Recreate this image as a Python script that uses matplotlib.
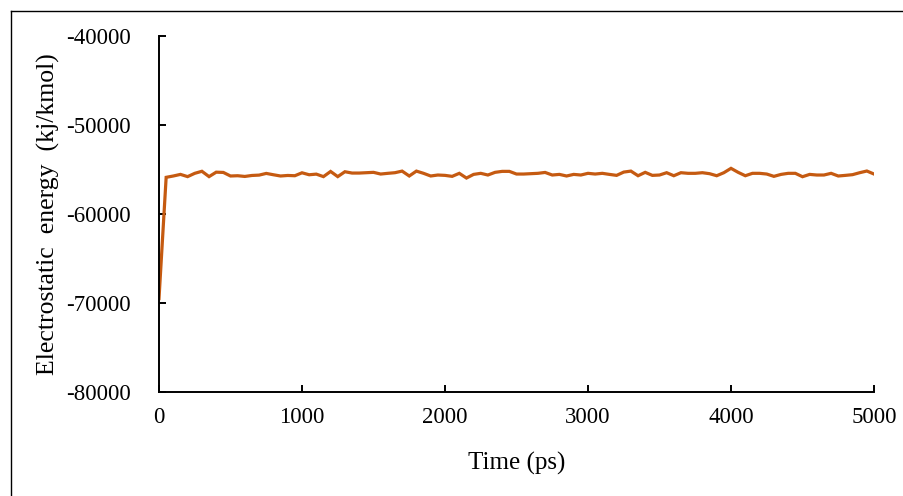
import matplotlib
matplotlib.use("Agg")
import matplotlib.pyplot as plt
from matplotlib.lines import Line2D
import numpy as np

time_ps = list(range(0, 5001, 50))
energy = [
    -69500, -55880, -55730, -55550, -55800, -55430, -55200, -55800, -55300, -55330,
    -55730, -55700, -55780, -55670, -55630, -55440, -55590, -55730, -55670, -55700,
    -55370, -55590, -55520, -55800, -55220, -55800, -55250, -55400, -55400, -55360,
    -55320, -55510, -55430, -55360, -55180, -55730, -55180, -55430, -55730, -55620,
    -55660, -55770, -55430, -55960, -55550, -55430, -55620, -55320, -55210, -55210,
    -55510, -55510, -55470, -55430, -55330, -55620, -55550, -55730, -55550, -55620,
    -55430, -55510, -55430, -55550, -55660, -55290, -55180, -55700, -55320, -55660,
    -55620, -55360, -55700, -55360, -55430, -55430, -55360, -55470, -55700, -55360,
    -54870, -55320, -55700, -55430, -55430, -55510, -55770, -55550, -55430, -55430,
    -55810, -55550, -55620, -55620, -55430, -55730, -55660, -55580, -55360, -55170,
    -55510,
]
xticks = [0, 1000, 2000, 3000, 4000, 5000]
yticks = [-80000, -70000, -60000, -50000, -40000]

plt.rcParams['font.family'] = ['Liberation Serif', 'DejaVu Serif']

fig = plt.figure(figsize=(9.04, 4.96), dpi=100)
ax = fig.add_axes([159/904, 1-392/496, (874-159)/904, (392-36)/496])

ax.plot(time_ps, energy, color='#C55A11', linewidth=2.3, solid_joinstyle='miter')

ax.set_xlim(0, 5000)
ax.set_ylim(-80000, -40000)
ax.set_xticks(xticks)
ax.set_yticks(yticks)
ax.set_xticklabels([str(v) for v in xticks])
ax.set_yticklabels([str(v) for v in yticks])
for s in ['top', 'right']:
    ax.spines[s].set_visible(False)
for s in ['left', 'bottom']:
    ax.spines[s].set_linewidth(1.4)
    ax.spines[s].set_color('black')
ax.tick_params(axis='both', direction='in', length=5, width=1.4, labelsize=16.5, colors='black')
ax.tick_params(axis='y', pad=20)
ax.tick_params(axis='x', pad=11)
ax.set_xlabel('Time (ps)', fontsize=18, labelpad=17)
ax.set_ylabel('Electrostatic  energy  (kj/kmol)', fontsize=18.5, labelpad=5)

fig.add_artist(Line2D([10.5/904, 10.5/904], [0, 1-10.5/496], transform=fig.transFigure, color='black', linewidth=1.0))
fig.add_artist(Line2D([10.5/904, 1], [1-10.5/496, 1-10.5/496], transform=fig.transFigure, color='black', linewidth=1.0))

fig.savefig('out.png', dpi=100)
